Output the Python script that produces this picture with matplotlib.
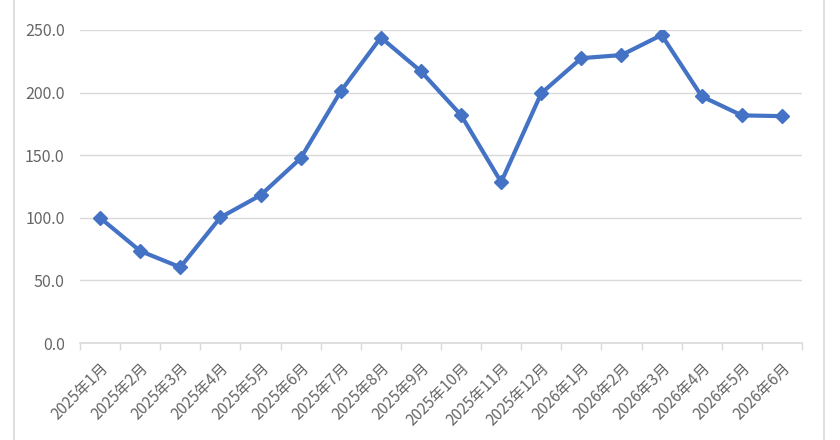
import matplotlib.pyplot as plt
from matplotlib.lines import Line2D

plt.rcParams['font.family'] = ['Noto Sans CJK SC', 'DejaVu Sans']

months = ['2025年1月', '2025年2月', '2025年3月', '2025年4月', '2025年5月', '2025年6月',
          '2025年7月', '2025年8月', '2025年9月', '2025年10月', '2025年11月', '2025年12月',
          '2026年1月', '2026年2月', '2026年3月', '2026年4月', '2026年5月', '2026年6月']
values = [100.0, 73.5, 60.5, 100.3, 118.0, 147.5, 201.0, 244.0, 217.0, 182.0, 128.5, 199.5,
          227.5, 230.0, 246.0, 197.0, 181.8, 181.2]
yticks = [0, 50, 100, 150, 200, 250]

fig = plt.figure(figsize=(8.4, 4.4), dpi=100)
ax = fig.add_axes([80/840, 1-343/440, (802-80)/840, (343-30)/440])

x = list(range(len(months)))
ax.plot(x, values, color='#4472C4', linewidth=3, marker='D', markersize=7, zorder=3)

ax.set_xlim(-0.5, len(months)-0.5)
ax.set_ylim(0, 250)
ax.set_yticks(yticks)
ax.set_yticklabels(['%.1f' % v for v in yticks], color='#666666', fontsize=11.5)
ax.set_xticks(x)
ax.set_xticklabels(months, rotation=45, ha='right', rotation_mode='anchor', color='#666666', fontsize=11)
ax.set_xticks([i - 0.5 for i in range(len(months)+1)], minor=True)
ax.tick_params(axis='x', which='major', length=0, pad=12)
ax.tick_params(axis='x', which='minor', length=5, color='#D9D9D9', width=1)
ax.tick_params(axis='y', length=0, pad=11)

ax.grid(axis='y', color='#D9D9D9', linewidth=1)
ax.set_axisbelow(True)
for s in ['top', 'right', 'left']:
    ax.spines[s].set_visible(False)
ax.spines['bottom'].set_color('#D9D9D9')
ax.spines['bottom'].set_linewidth(1.2)

# chart area border
fig.add_artist(Line2D([14/840, 14/840], [0, 1], color='#D9D9D9', linewidth=1.2))
fig.add_artist(Line2D([824/840, 824/840], [0, 1], color='#D9D9D9', linewidth=1.2))

fig.savefig('out.png', dpi=100)
